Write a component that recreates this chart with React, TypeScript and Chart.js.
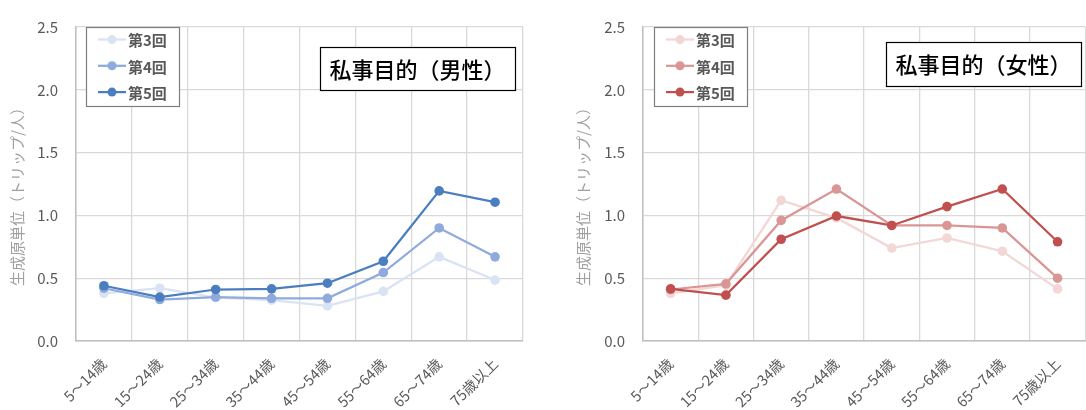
import React, { useEffect, useRef } from "react";
import { Chart, registerables } from "chart.js";
Chart.register(...registerables);

const categories = ["5～14歳", "15～24歳", "25～34歳", "35～44歳", "45～54歳", "55～64歳", "65～74歳", "75歳以上"];
const seriesNames = ["第3回", "第4回", "第5回"];
const yTicks = [0, 0.5, 1.0, 1.5, 2.0, 2.5];
const yTitle = "生成原単位（トリップ/人）";

const male3 = [0.38, 0.42, 0.345, 0.325, 0.28, 0.395, 0.67, 0.485];
const male4 = [0.42, 0.33, 0.35, 0.34, 0.34, 0.545, 0.9, 0.67];
const male5 = [0.44, 0.35, 0.41, 0.415, 0.46, 0.635, 1.195, 1.105];

const female3 = [0.38, 0.445, 1.12, 0.98, 0.74, 0.82, 0.715, 0.415];
const female4 = [0.41, 0.455, 0.96, 1.21, 0.92, 0.92, 0.9, 0.5];
const female5 = [0.415, 0.365, 0.81, 0.995, 0.92, 1.07, 1.21, 0.79];

const blueColors = ["#DAE3F3", "#8FAADC", "#4A7EBF"];
const redColors = ["#F2D7D6", "#D99694", "#C0504D"];

const FONT = "'Noto Sans CJK JP', 'Noto Sans', sans-serif";

type Cfg = {
  series: number[][];
  colors: string[];
  title: string;
  width: number;
  plotLeft: number;
  padRight: number;
  yTitleX: number;
  legend: { x: number; y: number; w: number; h: number };
  titleBox: { x: number; y: number; w: number; h: number };
};

function LineChart({ cfg }: { cfg: Cfg }) {
  const ref = useRef<HTMLCanvasElement | null>(null);
  useEffect(() => {
    const canvas = ref.current!;
    const overlay = {
      id: "overlay",
      afterDraw(chart: any) {
        const ctx = chart.ctx as CanvasRenderingContext2D;
        // y axis title
        ctx.save();
        ctx.fillStyle = "#A0A0A0";
        ctx.font = `15px ${FONT}`;
        ctx.textAlign = "center";
        ctx.textBaseline = "middle";
        ctx.translate(cfg.yTitleX, 193);
        ctx.rotate(-Math.PI / 2);
        ctx.fillText(yTitle, 0, 0);
        ctx.restore();
        // legend
        const L = cfg.legend;
        ctx.save();
        ctx.fillStyle = "#FFFFFF";
        ctx.fillRect(L.x, L.y, L.w, L.h);
        ctx.strokeStyle = "#7F7F7F";
        ctx.lineWidth = 1.2;
        ctx.strokeRect(L.x + 0.5, L.y + 0.5, L.w, L.h);
        seriesNames.forEach((name, i) => {
          const cy = L.y + 12.5 + i * 26.3;
          ctx.strokeStyle = cfg.colors[i];
          ctx.lineWidth = 2.25;
          ctx.beginPath();
          ctx.moveTo(L.x + 12, cy);
          ctx.lineTo(L.x + 40, cy);
          ctx.stroke();
          ctx.fillStyle = cfg.colors[i];
          ctx.beginPath();
          ctx.arc(L.x + 26, cy, 4.5, 0, Math.PI * 2);
          ctx.fill();
          ctx.fillStyle = "#595959";
          ctx.font = `bold 15px ${FONT}`;
          ctx.textAlign = "left";
          ctx.textBaseline = "middle";
          ctx.fillText(name, L.x + 42, cy + 1);
        });
        ctx.restore();
        // title box
        const T = cfg.titleBox;
        ctx.save();
        ctx.fillStyle = "#FFFFFF";
        ctx.fillRect(T.x, T.y, T.w, T.h);
        ctx.strokeStyle = "#000000";
        ctx.lineWidth = 1.2;
        ctx.strokeRect(T.x + 0.5, T.y + 0.5, T.w, T.h);
        ctx.fillStyle = "#000000";
        ctx.font = `500 22px ${FONT}`;
        ctx.textAlign = "center";
        ctx.textBaseline = "middle";
        ctx.fillText(cfg.title, T.x + T.w / 2, T.y + T.h / 2 + 1);
        ctx.restore();
      },
    };
    const order = [2, 1, 0];
    const chart = new Chart(canvas, {
      type: "line",
      data: {
        labels: categories,
        datasets: cfg.series.map((d, i) => ({
          label: seriesNames[i],
          data: d,
          borderColor: cfg.colors[i],
          backgroundColor: cfg.colors[i],
          pointBackgroundColor: cfg.colors[i],
          pointBorderColor: cfg.colors[i],
          borderWidth: 2.25,
          pointRadius: 4.8,
          pointBorderWidth: 0,
          tension: 0,
          order: order[i],
        })),
      },
      options: {
        responsive: false,
        animation: false,
        layout: { padding: { top: 17, right: cfg.padRight, bottom: 0, left: 0 } },
        plugins: { legend: { display: false }, tooltip: { enabled: false }, title: { display: false } },
        scales: {
          x: {
            type: "category",
            offset: true,
            grid: { offset: true, color: "#D9D9D9", lineWidth: 1.3, drawTicks: false },
            border: { color: "#BFBFBF", width: 1.5 },
            ticks: {
              minRotation: 45,
              maxRotation: 45,
              padding: 14,
              color: "#595959",
              font: { size: 14.5, family: FONT },
              autoSkip: false,
            },
            afterFit: (s: any) => {
              s.height = 69;
            },
          },
          y: {
            min: 0,
            max: 2.5,
            afterBuildTicks: (s: any) => {
              s.ticks = yTicks.map((v) => ({ value: v }));
            },
            ticks: {
              callback: (v: any) => Number(v).toFixed(1),
              padding: 18,
              color: "#595959",
              font: { size: 15, family: FONT },
            },
            grid: { color: "#D9D9D9", lineWidth: 1.3, drawTicks: false },
            border: { color: "#BFBFBF", width: 1.5 },
            afterFit: (s: any) => {
              s.width = cfg.plotLeft;
            },
          },
        },
      },
      plugins: [overlay],
    } as any);
    return () => chart.destroy();
  }, [cfg]);
  return <canvas ref={ref} width={cfg.width} height={410} style={{ display: "block" }} />;
}

const leftCfg: Cfg = {
  series: [male3, male4, male5],
  colors: blueColors,
  title: "私事目的（男性）",
  width: 543,
  plotLeft: 76,
  padRight: 20,
  yTitleX: 17,
  legend: { x: 86, y: 27, w: 93, h: 79 },
  titleBox: { x: 320, y: 47, w: 195, h: 43 },
};

const rightCfg: Cfg = {
  series: [female3, female4, female5],
  colors: redColors,
  title: "私事目的（女性）",
  width: 547,
  plotLeft: 100,
  padRight: 0,
  yTitleX: 40,
  legend: { x: 111, y: 27, w: 93, h: 79 },
  titleBox: { x: 343, y: 42, w: 195, h: 44 },
};

export default function App() {
  useEffect(() => {
    document.body.style.margin = "0";
  }, []);
  return (
    <div style={{ position: "relative", width: 1086, height: 410, overflow: "hidden", background: "#fff" }}>
      <div style={{ position: "absolute", left: 0, top: 0 }}>
        <LineChart cfg={leftCfg} />
      </div>
      <div style={{ position: "absolute", left: 543, top: 0 }}>
        <LineChart cfg={rightCfg} />
      </div>
    </div>
  );
}
